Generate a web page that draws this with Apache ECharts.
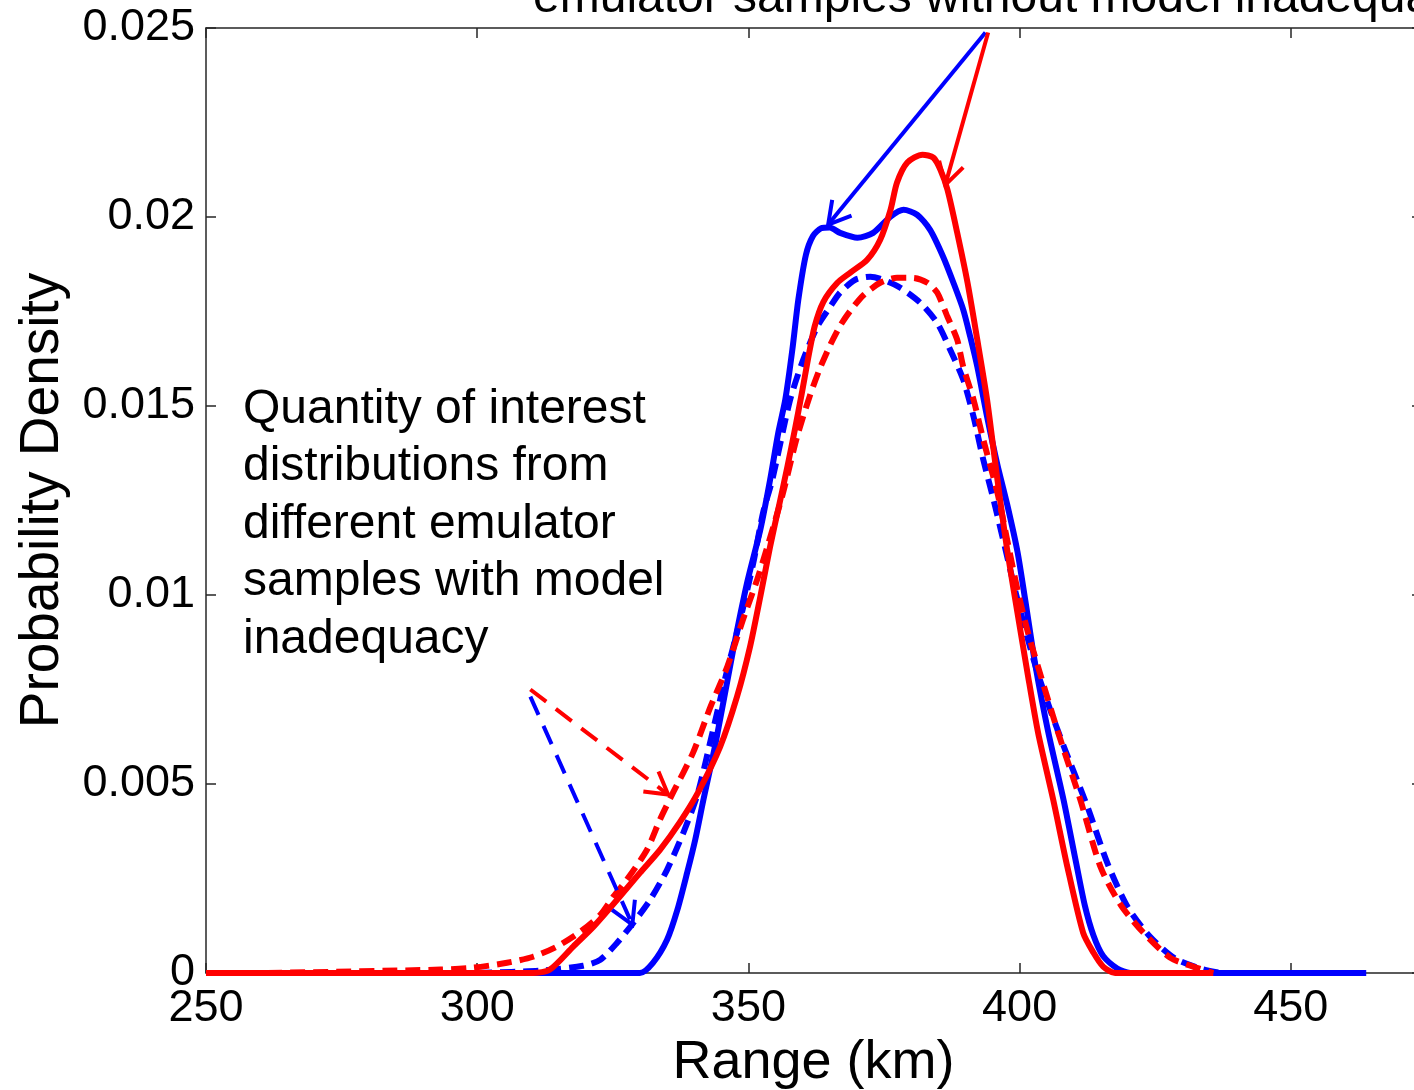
<!DOCTYPE html>
<html><head><meta charset="utf-8">
<script src="https://cdn.jsdelivr.net/npm/echarts@6/dist/echarts.min.js"></script>
<style>html,body{margin:0;padding:0;background:#fff;overflow:hidden}#c{width:1440px;height:1090px}</style>
</head><body><div id="c"></div>
<script>
// ---- data (Range km, probability density) ----
const blueSolid = [[297.4,0],[322.7,0],[330.0,0],[332.4,0.00027],[335.0,0.00088],[336.9,0.00167],[338.7,0.00265],[340.2,0.00353],[341.7,0.00458],[343.9,0.00604],[347.2,0.00855],[349.8,0.01035],[352.2,0.01173],[354.0,0.01305],[355.5,0.01429],[356.8,0.01517],[358.1,0.01649],[359.2,0.01781],[360.6,0.01900],[361.9,0.01950],[363.4,0.01970],[365.0,0.01972],[366.9,0.01958],[370.1,0.01945],[373.0,0.01958],[376.2,0.02001],[378.6,0.02019],[381.1,0.02006],[383.5,0.01966],[385.9,0.01895],[387.8,0.01826],[389.6,0.01755],[390.9,0.01683],[392.2,0.01604],[394.0,0.01472],[395.9,0.01345],[397.7,0.01240],[399.6,0.01115],[401.0,0.00990],[402.9,0.00815],[405.3,0.00636],[408.1,0.00458],[410.3,0.00300],[412.0,0.00180],[413.6,0.00100],[415.4,0.00045],[418.0,0.00012],[420.4,0],[463.9,0]];
const redSolid = [[250,0],[310.3,0],[313.4,0.00009],[317.7,0.00070],[321.4,0.00122],[325.8,0.00194],[330.0,0.00265],[333.7,0.00326],[337.4,0.00400],[340.8,0.00480],[344.8,0.00599],[347.9,0.00731],[350.3,0.00863],[352.2,0.00996],[354.0,0.01128],[355.7,0.01240],[357.2,0.01340],[358.6,0.01440],[359.8,0.01530],[361.0,0.01625],[362.2,0.01710],[363.8,0.01775],[366.4,0.01826],[368.8,0.01853],[371.9,0.01887],[374.3,0.01940],[376.2,0.02019],[377.4,0.02091],[379.3,0.02144],[382.1,0.02165],[384.1,0.02157],[385.4,0.02125],[386.7,0.02072],[388.5,0.01958],[390.4,0.01826],[392.2,0.01675],[394.0,0.01517],[395.2,0.01384],[396.4,0.01252],[397.7,0.01120],[399.6,0.00953],[401.5,0.00790],[403.4,0.00636],[406.2,0.00458],[408.8,0.00281],[411.7,0.00107],[413.6,0.00054],[415.4,0.00017],[417.6,0],[435.7,0]];
const blueDashed = [[300,0],[311.6,0.00006],[319.5,0.00019],[322.7,0.00035],[325.8,0.00080],[328.8,0.00133],[331.9,0.00194],[335.0,0.00273],[338.0,0.00371],[340.6,0.00472],[343.5,0.00644],[346.1,0.00802],[348.5,0.00935],[350.9,0.01085],[352.7,0.01218],[354.4,0.01305],[357.7,0.01517],[360.1,0.01622],[362.7,0.01710],[365.1,0.01763],[366.9,0.01800],[369.7,0.01834],[372.5,0.01842],[375.2,0.01832],[378.0,0.01813],[381.7,0.01773],[384.8,0.01720],[387.2,0.01649],[389.6,0.01570],[391.5,0.01472],[393.3,0.01358],[395.2,0.01252],[397.4,0.01120],[399.3,0.01005],[401.2,0.00900],[403.3,0.00795],[405.8,0.00690],[408.4,0.00590],[412.5,0.00440],[416.2,0.00290],[419.9,0.00175],[424.1,0.00095],[428.7,0.00038],[433.3,0.00012],[437.0,0]];
const redDashed = [[261.3,0],[293.2,0.00009],[299.2,0.00014],[305.5,0.00027],[310.3,0.00043],[314.7,0.00070],[319.0,0.00109],[322.7,0.00154],[325.1,0.00202],[327.6,0.00247],[331.3,0.00326],[333.7,0.00406],[336.1,0.00477],[339.8,0.00583],[343.0,0.00704],[346.1,0.00810],[349.0,0.00935],[351.6,0.01040],[353.5,0.01128],[354.9,0.01195],[356.4,0.01271],[359.0,0.01420],[361.4,0.01530],[363.2,0.01600],[365.1,0.01662],[366.9,0.01712],[368.8,0.01752],[371.2,0.01793],[374.3,0.01826],[377.4,0.01839],[380.4,0.01839],[383.0,0.01826],[384.8,0.01800],[386.7,0.01736],[388.5,0.01675],[389.6,0.01604],[391.5,0.01517],[393.3,0.01411],[395.9,0.01271],[397.7,0.01146],[399.6,0.01014],[401.4,0.00908],[403.4,0.00810],[407.1,0.00636],[411.2,0.00458],[414.9,0.00281],[418.6,0.00181],[422.8,0.00107],[427.8,0.00040],[432.0,0.00017],[435.7,0]];
// annotation arrows [start, end] in data coordinates
const arrowBlueSolid = [[393.7,0.02488],[364.7,0.01980]];
const arrowRedSolid = [[394.2,0.02488],[386.3,0.02085]];
const arrowRedDashed = [[309.8,0.00750],[335.2,0.00472]];
const arrowBlueDashed = [[309.8,0.00731],[328.6,0.00128]];
const annotationText = ['Quantity of interest','distributions from','different emulator','samples with model','inadequacy'];
const topText = 'emulator samples without model inadequacy';
const xTickMin = 250, xTickMax = 474, xTickStep = 50;
const yTickMin = 0, yTickMax = 0.025, yTickStep = 0.005;

const FONT = '"Liberation Sans", Arial, Helvetica, sans-serif';
const BLUE = '#0000ff', RED = '#ff0000';
const chart = echarts.init(document.getElementById('c'), null, {renderer:'canvas'});

const axisLine = {show:true, onZero:false, lineStyle:{color:'#262626', width:1.5}};
const tick = {show:true, inside:true, length:10, lineStyle:{color:'#262626', width:1.5}};

function lineSeries(name, data, color, dashed){
  return {name, type:'line', data, showSymbol:false, symbol:'none', smooth:0.25,
    xAxisIndex:0, yAxisIndex:0, animation:false,
    lineStyle:{color, width:6, type: dashed ? [15,8] : 'solid', cap:'butt', join:'round'}};
}

chart.setOption({
  animation:false,
  backgroundColor:'#fff',
  grid:{left:206, top:28, width:1215, height:945, containLabel:false, outerBoundsMode:'none'},
  xAxis:[
    {type:'value', position:'bottom', min:xTickMin, max:xTickMax, interval:xTickStep,
     axisLine, axisTick:tick, splitLine:{show:false},
     axisLabel:{margin:13, fontSize:45, color:'#000', fontFamily:FONT, showMaxLabel:false,
       formatter:v => (v % 50 === 0 ? String(v) : '')},
     name:'Range (km)', nameLocation:'middle', nameGap:60,
     nameTextStyle:{fontSize:54, color:'#000', fontFamily:FONT}},
    {type:'value', position:'top', min:xTickMin, max:xTickMax, interval:xTickStep,
     axisLine, axisTick:tick, axisLabel:{show:false}, splitLine:{show:false}}
  ],
  yAxis:[
    {type:'value', position:'left', min:yTickMin, max:yTickMax, interval:yTickStep,
     axisLine, axisTick:tick, splitLine:{show:false},
     axisLabel:{margin:11, fontSize:45, color:'#000', fontFamily:FONT,
       formatter:v => String(parseFloat(v.toFixed(3)))},
     name:'Probability Density', nameLocation:'middle', nameGap:136,
     nameTextStyle:{fontSize:55, color:'#000', fontFamily:FONT}},
    {type:'value', position:'right', min:yTickMin, max:yTickMax, interval:yTickStep,
     axisLine, axisTick:{show:true, inside:true, length:9, lineStyle:{color:'#262626', width:1.5}},
     axisLabel:{show:false}, splitLine:{show:false}}
  ],
  series:[
    lineSeries('blue solid', blueSolid, BLUE, false),
    lineSeries('blue dashed', blueDashed, BLUE, true),
    lineSeries('red solid', redSolid, RED, false),
    lineSeries('red dashed', redDashed, RED, true)
  ]
});

function arrowGraphics(pair, color, dashed){
  const a = chart.convertToPixel({gridIndex:0}, pair[0]);
  const b = chart.convertToPixel({gridIndex:0}, pair[1]);
  const ang = Math.atan2(b[1]-a[1], b[0]-a[0]);
  const L = 25, th = Math.PI/6;
  const w1 = [b[0]-L*Math.cos(ang-th), b[1]-L*Math.sin(ang-th)];
  const w2 = [b[0]-L*Math.cos(ang+th), b[1]-L*Math.sin(ang+th)];
  const style = {stroke:color, lineWidth:4, fill:null, lineDash: dashed ? [20,12] : null};
  return [
    {type:'line', z:100, shape:{x1:a[0], y1:a[1], x2:b[0], y2:b[1]}, style:Object.assign({}, style)},
    {type:'polyline', z:100, shape:{points:[w1, b, w2]}, style:{stroke:color, lineWidth:4, fill:null}}
  ];
}

const g = [].concat(
  arrowGraphics(arrowBlueSolid, BLUE, false),
  arrowGraphics(arrowRedSolid, RED, false),
  arrowGraphics(arrowRedDashed, RED, true),
  arrowGraphics(arrowBlueDashed, BLUE, true)
);
g.push({type:'text', z:100, x:243, y:381,
  style:{text:annotationText.join('\n'), font:'48px ' + FONT, fill:'#000', lineHeight:57.5,
    align:'left', verticalAlign:'top', textAlign:'left', textVerticalAlign:'top'}});
g.push({type:'text', z:100, x:533, y:-30,
  style:{text:topText, font:'48px ' + FONT, fill:'#000', lineHeight:57.5,
    align:'left', verticalAlign:'top', textAlign:'left', textVerticalAlign:'top'}});
chart.setOption({graphic:g});
</script></body></html>
